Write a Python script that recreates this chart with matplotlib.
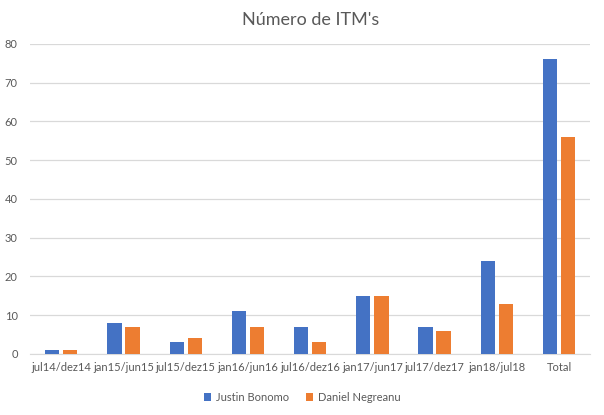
import numpy as np
import matplotlib
matplotlib.use('Agg')
import matplotlib.pyplot as plt

# data
categories = ['jul14/dez14', 'jan15/jun15', 'jul15/dez15', 'jan16/jun16', 'jul16/dez16',
              'jan17/jun17', 'jul17/dez17', 'jan18/jul18', 'Total']
justin = [1, 8, 3, 11, 7, 15, 7, 24, 76]
daniel = [1, 7, 4, 7, 3, 15, 6, 13, 56]

plt.rcParams['font.family'] = ['Lato', 'DejaVu Sans']
text_col = '#595959'

fig = plt.figure(figsize=(6.04, 4.15), dpi=100)
ax = fig.add_axes([0.05, 0.147, 0.927, 0.747])

x = np.arange(len(categories))
w = 0.23
ax.bar(x - 0.145, justin, w, color='#4472C4', label='Justin Bonomo', zorder=3)
ax.bar(x + 0.145, daniel, w, color='#ED7D31', label='Daniel Negreanu', zorder=3)

ax.set_xlim(-0.5, len(categories) - 0.5)
ax.set_ylim(0, 80)
ax.set_yticks(range(0, 81, 10))
ax.set_xticks(x)
ax.set_xticklabels(categories)
ax.tick_params(axis='both', length=0, labelsize=8, colors=text_col)
ax.tick_params(axis='x', pad=6)
ax.tick_params(axis='y', pad=9)
ax.grid(axis='y', color='#D9D9D9', linewidth=0.9, zorder=0)
for s in ['top', 'right', 'left']:
    ax.spines[s].set_visible(False)
ax.spines['bottom'].set_color('#D9D9D9')

ax.set_title("Número de ITM's", fontsize=13, color=text_col, pad=14)

fig.legend(loc='lower center', ncol=2, frameon=False, fontsize=8,
           labelcolor=text_col, handlelength=0.7, handleheight=0.7,
           columnspacing=1.5, handletextpad=0.4, bbox_to_anchor=(0.5, 0.005))

fig.savefig('out.png', dpi=100)
